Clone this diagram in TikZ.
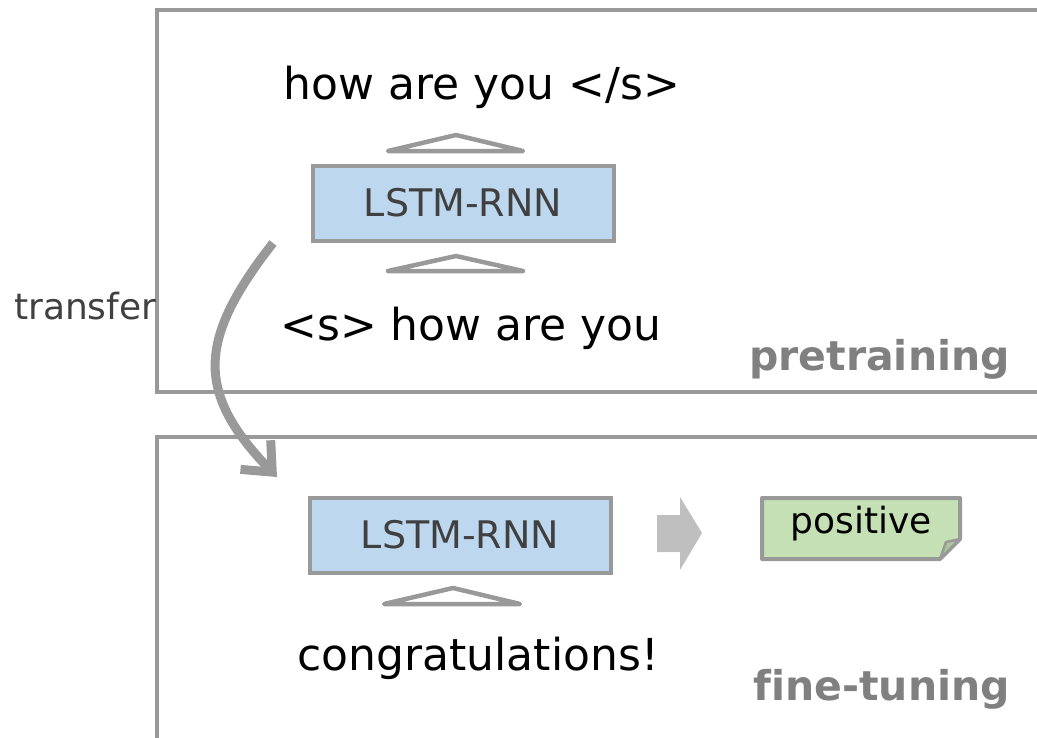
\documentclass[tikz,border=0pt]{standalone}
\usepackage{fontspec}
\setmainfont{DejaVu Sans}[Ligatures=NoCommon]
\usetikzlibrary{arrows.meta}
\definecolor{lgray}{HTML}{999999}
\definecolor{agray}{HTML}{BFBFBF}
\definecolor{tgray}{HTML}{404040}
\definecolor{lblgray}{HTML}{808080}
\definecolor{lblue}{HTML}{BDD7EE}
\definecolor{lgreen}{HTML}{C5E0B4}
\definecolor{dgreen}{HTML}{A8C898}
\tikzset{
  frame/.style={draw=lgray, line width=3.5pt},
  lstm/.style={draw=lgray, line width=4pt, fill=lblue, minimum width=301pt, minimum height=75pt, inner sep=0pt, text=tgray, font=\fontsize{38}{44}\selectfont},
  tri/.style={draw=lgray, line width=4.5pt, fill=white, line join=round, line cap=round},
  seq/.style={inner sep=0pt, text=black, font=\fontsize{44}{50}\selectfont},
  phase/.style={inner sep=0pt, text=lblgray, font=\bfseries\fontsize{41}{46}\selectfont},
}
\begin{document}
\begin{tikzpicture}[x=1pt,y=-1pt]
\useasboundingbox (0,0) rectangle (1037,737);
\clip (0,0) rectangle (1037,737);
% frames
\draw[frame] (1045,10) -- (157,10) -- (157,392) -- (1045,392);
\draw[frame] (1045,437) -- (157,437) -- (157,745);
% pretraining
\node[seq, anchor=base] (out) at (482,99) {how are you </s>};
\draw[tri] (388,151) -- (456,135) -- (523,151) -- cycle;
\node[lstm] (l1) at (463,203) {LSTM-RNN};
\draw[tri] (388,271) -- (456,256) -- (523,271) -- cycle;
\node[seq, anchor=base] (in) at (471,340) {<s> how are you};
\node[phase, anchor=base east] (pre) at (1010,370) {pretraining};
% transfer
\node[inner sep=0pt, anchor=base west, text=tgray, font=\fontsize{36}{40}\selectfont] (tr) at (14,319) {transfer};
\coordinate (ts) at (273,243);
\coordinate (te) at (277,477);
\draw[lgray, line width=9pt, -{Straight Barb[length=24pt,width=42pt]}] (ts) .. controls (198,339) and (195,392) .. (te);
% fine-tuning
\node[lstm] (l2) at (460,535) {LSTM-RNN};
\draw[tri] (384,604) -- (453,588) -- (520,604) -- cycle;
\node[seq, anchor=base] (in2) at (478,670) {congratulations!};
\node[phase, anchor=base east] (ft) at (1010,700) {fine-tuning};
% block arrow
\fill[agray] (657,515) -- (680,515) -- (680,497) -- (702,533) -- (680,570) -- (680,552) -- (657,552) -- cycle;
% note
\draw[lgray, line width=4pt, fill=lgreen, line join=round] (762,498) -- (960,498) -- (960,539) -- (940,559) -- (762,559) -- cycle;
\draw[lgray, line width=2.5pt, fill=dgreen, line join=round] (960,539) -- (946,542) -- (940,559) -- cycle;
\node[inner sep=0pt, anchor=base, text=black, font=\fontsize{36}{40}\selectfont] (pos) at (861,533) {positive};
\end{tikzpicture}
\end{document}
